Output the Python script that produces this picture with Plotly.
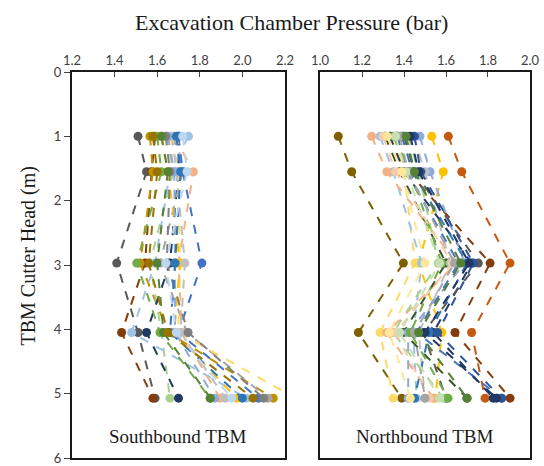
import plotly.graph_objects as go

depths = [1.0, 1.55, 2.97, 4.05, 5.07]

south_colors = ["#595959", "#843C0C", "#BF9000", "#A9D18E", "#1F3864", "#9DC3E6",
                "#A5A5A5", "#4472C4", "#F4B183", "#70AD47", "#FFD966", "#FFC000",
                "#BFBFBF", "#8FAADC", "#7F7F7F", "#2E75B6", "#548235", "#997300", "#BDD7EE"]
south_values = [
    [1.51, 1.55, 1.41, 1.51, 1.59],
    [1.59, 1.574, 1.543, 1.433, 1.58],
    [1.566, 1.58, 1.52, 1.652, 2.145],
    [1.645, 1.676, 1.566, 1.62, 1.66],
    [1.70, 1.70, 1.66, 1.55, 1.70],
    [1.747, 1.66, 1.59, 1.48, 2.02],
    [1.676, 1.72, 1.613, 1.74, 2.12],
    [1.70, 1.72, 1.81, 1.70, 2.075],
    [1.68, 1.77, 1.70, 1.715, 1.895],
    [1.60, 1.62, 1.504, 1.613, 1.848],
    [1.66, 1.70, 1.707, 1.70, 2.25],
    [1.62, 1.65, 1.707, 1.68, 1.973],
    [1.67, 1.69, 1.73, 1.71, 1.92],
    [1.65, 1.68, 1.684, 1.684, 1.87],
    [1.64, 1.66, 1.645, 1.745, 2.10],
    [1.69, 1.71, 1.684, 1.66, 2.00],
    [1.62, 1.65, 1.60, 1.63, 1.85],
    [1.58, 1.60, 1.56, 1.65, 2.05],
    [1.72, 1.74, 1.64, 1.69, 1.95],
]

north_colors = ["#7F6000", "#C55A11", "#FFC000", "#FFD966", "#843C0C", "#1F3864",
                "#595959", "#9DC3E6", "#F4B183", "#A9D18E", "#375623", "#8FAADC",
                "#BFBFBF", "#4472C4", "#2E75B6", "#70AD47", "#F8CBAD", "#2F5597",
                "#203864", "#A5A5A5", "#C5E0B4", "#FFE699", "#548235"]
north_values = [
    [1.087, 1.151, 1.397, 1.183, 1.389],
    [1.611, 1.675, 1.905, 1.722, 1.786],
    [1.532, 1.587, 1.47, 1.58, 1.55],
    [1.35, 1.40, 1.452, 1.286, 1.349],
    [1.365, 1.42, 1.81, 1.643, 1.905],
    [1.333, 1.40, 1.722, 1.54, 1.825],
    [1.40, 1.45, 1.754, 1.492, 1.60],
    [1.286, 1.349, 1.484, 1.444, 1.46],
    [1.246, 1.318, 1.651, 1.318, 1.54],
    [1.42, 1.47, 1.563, 1.348, 1.587],
    [1.31, 1.38, 1.60, 1.397, 1.70],
    [1.476, 1.524, 1.69, 1.42, 1.42],
    [1.444, 1.50, 1.62, 1.47, 1.50],
    [1.37, 1.41, 1.66, 1.46, 1.865],
    [1.39, 1.44, 1.70, 1.52, 1.45],
    [1.35, 1.43, 1.58, 1.43, 1.61],
    [1.30, 1.36, 1.63, 1.36, 1.52],
    [1.45, 1.48, 1.73, 1.56, 1.865],
    [1.43, 1.47, 1.71, 1.50, 1.84],
    [1.38, 1.42, 1.64, 1.45, 1.50],
    [1.36, 1.41, 1.57, 1.38, 1.57],
    [1.32, 1.39, 1.50, 1.33, 1.43],
    [1.41, 1.45, 1.67, 1.47, 1.70],
]

x_ticks_south = [1.2, 1.4, 1.6, 1.8, 2.0, 2.2]
x_ticks_north = [1.0, 1.2, 1.4, 1.6, 1.8, 2.0]
y_ticks = [0, 1, 2, 3, 4, 5, 6]

fig = go.Figure()
for vals, col in zip(south_values, south_colors):
    fig.add_trace(go.Scatter(x=vals, y=depths, mode="lines+markers", xaxis="x", yaxis="y",
                             line=dict(color=col, width=2, dash="dash"),
                             marker=dict(color=col, size=9), showlegend=False))
for vals, col in zip(north_values, north_colors):
    fig.add_trace(go.Scatter(x=vals, y=depths, mode="lines+markers", xaxis="x2", yaxis="y2",
                             line=dict(color=col, width=2, dash="dash"),
                             marker=dict(color=col, size=9), showlegend=False))

tickfont = dict(family="Lato, Liberation Sans, sans-serif", size=13, color="#404040")
axis_common = dict(showgrid=False, zeroline=False, showline=True, linecolor="#1a1a1a",
                   linewidth=2, mirror=True, tickfont=tickfont, automargin=False,
                   ticklabeloverflow="allow")

fig.update_layout(
    width=544, height=466,
    margin=dict(l=72, r=14, t=72, b=8),
    paper_bgcolor="white", plot_bgcolor="white",
    xaxis=dict(domain=[0, 0.465], range=[1.2, 2.2], side="top", tickvals=x_ticks_south,
               ticktext=[f"{v:.1f}" for v in x_ticks_south], ticks="inside", ticklen=5,
               tickcolor="#404040", **axis_common),
    xaxis2=dict(domain=[0.5415, 1.0], range=[1.0, 2.0], side="top", tickvals=x_ticks_north,
                ticktext=[f"{v:.1f}" for v in x_ticks_north], ticks="inside", ticklen=5,
                tickcolor="#404040", anchor="y2", **axis_common),
    yaxis=dict(range=[6, 0], tickvals=y_ticks, ticks="outside", ticklen=6, tickcolor="#404040",
               anchor="x", **axis_common),
    yaxis2=dict(range=[6, 0], showticklabels=False, anchor="x2", matches="y", **axis_common),
)

serif = "Liberation Serif, Times New Roman, serif"
fig.add_annotation(text="Excavation Chamber Pressure (bar)", xref="paper", yref="paper",
                   x=0.48, y=1.0, yshift=50, showarrow=False, yanchor="middle",
                   font=dict(family=serif, size=22, color="#1a1a1a"))
fig.add_annotation(text="TBM Cutter Head (m)", xref="paper", yref="paper",
                   x=0, xshift=-58, y=0.5, yshift=9, showarrow=False, textangle=-90,
                   font=dict(family=serif, size=20, color="#1a1a1a"))
fig.add_annotation(text="Southbound TBM", xref="x domain", yref="y domain",
                   x=0.5, y=0, yshift=9, showarrow=False,
                   font=dict(family=serif, size=19, color="#1a1a1a"))
fig.add_annotation(text="Northbound TBM", xref="x2 domain", yref="y2 domain",
                   x=0.5, y=0, yshift=9, showarrow=False,
                   font=dict(family=serif, size=19, color="#1a1a1a"))

fig.write_html("out.html", config={"displayModeBar": False},
               post_script="document.body.style.margin='0';document.body.style.overflow='hidden';")
